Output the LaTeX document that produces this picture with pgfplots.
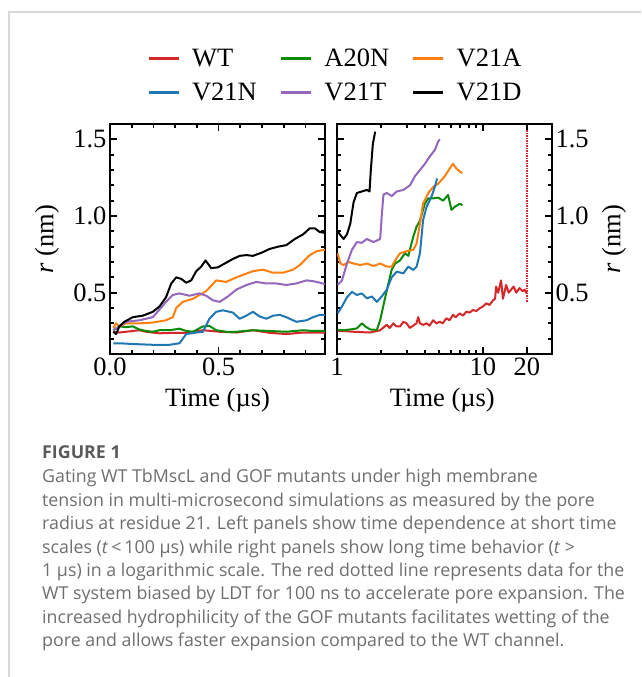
\documentclass[border=0pt]{standalone}
\usepackage{fontspec}
\setmainfont{Liberation Serif}
\newfontfamily\capfont{Open Sans}
\usepackage{pgfplots}
\pgfplotsset{compat=1.18}

\definecolor{cWT}{HTML}{D62728}
\definecolor{cA20N}{HTML}{0A8A0A}
\definecolor{cV21A}{HTML}{FF7F0E}
\definecolor{cV21N}{HTML}{1F77B4}
\definecolor{cV21T}{HTML}{9467BD}
\definecolor{cV21D}{HTML}{000000}
\definecolor{capgray}{HTML}{6E6E6E}
\definecolor{capdark}{HTML}{5A5A5A}
\definecolor{framegray}{HTML}{D9D9D9}

\pgfplotsset{
  panel/.style={
    scale only axis, width=215pt, height=230pt,
    ymin=0.1, ymax=1.6,
    ytick={0.5,1.0,1.5}, yticklabels={0.5,1.0,1.5},
    minor ytick={0.2,0.3,0.4,0.6,0.7,0.8,0.9,1.1,1.2,1.3,1.4},
    font=\fontsize{26.5}{30}\selectfont,
    axis line style={line width=2.5pt},
    major tick length=7pt, minor tick length=4pt,
    tick style={line width=1.8pt, black},
    tick align=inside,
    xlabel={Time (µs)},
    ylabel={\textit{r} (nm)},
    every axis plot/.append style={line width=2pt, line join=round, no marks},
  }
}

\begin{document}
\begin{tikzpicture}
\path[use as bounding box] (0pt,0pt) rectangle (641pt,677pt);
\draw[framegray, line width=1.5pt] (9pt,0pt) -- (9pt,665pt) -- (641pt,665pt);

% short times
\begin{axis}[panel, at={(110pt,323pt)}, anchor=south west,
    xmin=0, xmax=0.99,
    xtick={0,0.5}, xticklabels={0.0,0.5},
    minor xtick={0.1,0.2,0.3,0.4,0.6,0.7,0.8,0.9},
    xlabel style={at={(axis description cs:0.5,-0.2)}, anchor=center},
    ylabel style={at={(axis description cs:-0.293,0.5)}, anchor=center},
    legend columns=3, legend cell align=left,
    legend image code/.code={\draw[#1, line width=2.5pt] (0pt,0pt) -- (30pt,0pt);},
    legend style={draw=none, fill=none, at={(1.049,1.211)}, anchor=center,
        row sep=11pt,
        /tikz/every even column/.append style={column sep=21pt},
        /tikz/every odd column/.append style={column sep=10pt}},
]
\addplot[cWT] coordinates {(0.015,0.245) (0.043,0.24) (0.105,0.25) (0.135,0.255) (0.166,0.245) (0.228,0.235) (0.289,0.238) (0.351,0.238) (0.428,0.255) (0.505,0.245) (0.582,0.24) (0.658,0.255) (0.735,0.238) (0.812,0.23) (0.889,0.24) (0.99,0.24)};
\addplot[cA20N] coordinates {(0.015,0.255) (0.043,0.28) (0.074,0.275) (0.105,0.28) (0.135,0.26) (0.166,0.25) (0.197,0.245) (0.228,0.255) (0.274,0.255) (0.32,0.265) (0.351,0.25) (0.382,0.245) (0.428,0.28) (0.458,0.283) (0.489,0.255) (0.535,0.245) (0.582,0.245) (0.658,0.255) (0.735,0.25) (0.812,0.245) (0.889,0.255) (0.935,0.25) (0.99,0.25)};
\addplot[cV21A] coordinates {(0.015,0.27) (0.028,0.3) (0.043,0.28) (0.074,0.3) (0.135,0.3) (0.197,0.305) (0.258,0.32) (0.289,0.34) (0.305,0.4) (0.335,0.44) (0.382,0.46) (0.443,0.51) (0.489,0.58) (0.535,0.57) (0.582,0.6) (0.658,0.64) (0.705,0.65) (0.751,0.63) (0.797,0.63) (0.843,0.65) (0.874,0.68) (0.92,0.745) (0.951,0.77) (0.99,0.78)};
\addplot[cV21N] coordinates {(0.015,0.17) (0.043,0.17) (0.105,0.165) (0.197,0.16) (0.274,0.16) (0.32,0.17) (0.351,0.23) (0.397,0.24) (0.428,0.245) (0.458,0.33) (0.489,0.375) (0.52,0.385) (0.566,0.37) (0.597,0.33) (0.628,0.35) (0.658,0.375) (0.689,0.345) (0.72,0.33) (0.751,0.35) (0.782,0.355) (0.812,0.34) (0.858,0.31) (0.905,0.32) (0.935,0.34) (0.966,0.355) (0.99,0.355)};
\addplot[cV21T] coordinates {(0.015,0.255) (0.043,0.28) (0.074,0.31) (0.135,0.32) (0.197,0.34) (0.228,0.39) (0.258,0.44) (0.289,0.485) (0.32,0.495) (0.366,0.48) (0.412,0.495) (0.443,0.48) (0.474,0.45) (0.505,0.44) (0.543,0.475) (0.582,0.52) (0.628,0.55) (0.674,0.57) (0.72,0.56) (0.766,0.56) (0.812,0.55) (0.858,0.56) (0.905,0.58) (0.935,0.575) (0.966,0.565) (0.99,0.555)};
\addplot[cV21D] coordinates {(0.015,0.245) (0.028,0.23) (0.043,0.28) (0.066,0.31) (0.105,0.34) (0.151,0.35) (0.197,0.375) (0.228,0.41) (0.258,0.47) (0.282,0.56) (0.305,0.6) (0.328,0.59) (0.351,0.565) (0.374,0.58) (0.397,0.64) (0.42,0.67) (0.44,0.71) (0.466,0.66) (0.497,0.665) (0.528,0.69) (0.566,0.72) (0.597,0.74) (0.628,0.745) (0.658,0.74) (0.697,0.76) (0.735,0.785) (0.774,0.8) (0.812,0.81) (0.851,0.85) (0.889,0.88) (0.92,0.92) (0.943,0.92) (0.966,0.895) (0.99,0.89)};
\legend{WT, A20N, V21A, V21N, V21T, V21D}
\end{axis}

% long times, logarithmic
\begin{axis}[panel, at={(337pt,323pt)}, anchor=south west,
    xmode=log, xmin=1, xmax=29.7,
    xtick={1,10,20}, xticklabels={1,10,20},
    minor xtick={2,3,4,5,6,7,8,9},
    yticklabel pos=right,
    xlabel style={at={(axis description cs:0.49,-0.2)}, anchor=center},
    ylabel style={at={(axis description cs:1.288,0.5)}, anchor=center, rotate=0},
]
\addplot[cWT] coordinates {(1.01,0.252) (1.299,0.245) (1.687,0.24) (1.975,0.255) (2.193,0.29) (2.3,0.27) (2.43,0.3) (2.55,0.28) (2.7,0.28) (2.85,0.31) (3.0,0.3) (3.15,0.27) (3.33,0.285) (3.5,0.3) (3.6,0.34) (3.7,0.3) (3.9,0.29) (4.11,0.3) (4.3,0.285) (4.56,0.32) (4.8,0.3) (5.06,0.31) (5.3,0.3) (5.62,0.333) (5.9,0.32) (6.23,0.355) (6.5,0.34) (6.93,0.365) (7.3,0.35) (7.69,0.376) (8.1,0.37) (8.54,0.387) (9.0,0.38) (9.48,0.398) (10.0,0.41) (10.5,0.43) (11.1,0.42) (11.7,0.45) (12.1,0.46) (12.3,0.54) (12.7,0.5) (13.3,0.58) (13.7,0.46) (14.4,0.55) (15.0,0.5) (15.6,0.52) (16.2,0.54) (16.9,0.5) (17.8,0.53) (18.7,0.51) (19.3,0.52) (19.9,0.495)};
\addplot[cWT, line width=1.5pt, dash pattern=on 1.5pt off 1pt] coordinates {(20,0.44) (20,1.56)};
\addplot[cA20N] coordinates {(1.01,0.257) (1.11,0.255) (1.233,0.26) (1.369,0.267) (1.48,0.3) (1.56,0.28) (1.687,0.26) (1.875,0.257) (1.975,0.32) (2.14,0.47) (2.25,0.56) (2.37,0.65) (2.5,0.69) (2.7,0.71) (2.92,0.757) (3.08,0.74) (3.33,0.865) (3.51,0.93) (3.7,0.97) (4.0,1.08) (4.22,1.115) (4.56,1.115) (4.93,1.12) (5.33,1.1) (5.77,1.137) (6.08,1.04) (6.41,1.06) (6.93,1.08) (7.22,1.07)};
\addplot[cV21A] coordinates {(1.01,0.757) (1.054,0.69) (1.11,0.68) (1.2,0.7) (1.299,0.69) (1.442,0.68) (1.6,0.69) (1.778,0.674) (1.975,0.69) (2.193,0.67) (2.37,0.67) (2.5,0.71) (2.7,0.757) (3.0,0.77) (3.33,0.78) (3.51,0.82) (3.7,0.95) (3.89,1.08) (4.22,1.15) (4.56,1.19) (4.93,1.21) (5.48,1.26) (5.92,1.31) (6.23,1.34) (6.58,1.31) (6.93,1.29) (7.22,1.28)};
\addplot[cV21N] coordinates {(1.01,0.365) (1.082,0.41) (1.17,0.47) (1.266,0.505) (1.369,0.485) (1.48,0.495) (1.6,0.463) (1.733,0.475) (1.875,0.44) (2.025,0.475) (2.193,0.52) (2.37,0.6) (2.565,0.637) (2.85,0.626) (3.08,0.67) (3.33,0.648) (3.51,0.67) (3.7,0.757) (3.89,0.974) (4.11,1.06) (4.44,1.126) (4.68,1.19) (4.85,1.245)};
\addplot[cV21T] coordinates {(1.01,0.55) (1.082,0.58) (1.17,0.69) (1.266,0.78) (1.369,0.83) (1.48,0.825) (1.6,0.85) (1.778,0.83) (1.975,0.85) (2.025,1.0) (2.08,1.14) (2.193,1.15) (2.37,1.13) (2.565,1.16) (2.85,1.17) (3.16,1.2) (3.42,1.26) (3.7,1.3) (4.0,1.34) (4.33,1.39) (4.68,1.43) (4.93,1.485) (5.06,1.5)};
\addplot[cV21D] coordinates {(1.01,0.9) (1.054,0.876) (1.11,0.85) (1.17,0.88) (1.233,0.95) (1.299,1.09) (1.369,1.15) (1.48,1.16) (1.6,1.17) (1.67,1.16) (1.705,1.3) (1.76,1.47) (1.826,1.55)};
\end{axis}

% caption
\node[anchor=base west, inner sep=0, text=capdark, font=\capfont\bfseries\fontsize{17.8}{20}\selectfont] at (42pt,218pt) {FIGURE 1};
\begin{scope}[every node/.style={anchor=base west, inner sep=0, text=capgray, font=\capfont\fontsize{17.8}{20}\selectfont}]
\node at (42pt,194pt) {Gating WT TbMscL and GOF mutants under high membrane};
\node at (42pt,170.6pt) {tension in multi-microsecond simulations as measured by the pore};
\node at (42pt,147.2pt) {radius at residue 21. Left panels show time dependence at short time};
\node at (42pt,123.8pt) {scales (\textit{t}\,<\,100 µs) while right panels show long time behavior (\textit{t} >};
\node at (42pt,100.4pt) {1 µs) in a logarithmic scale. The red dotted line represents data for the};
\node at (42pt,77pt) {WT system biased by LDT for 100 ns to accelerate pore expansion. The};
\node at (42pt,53.6pt) {increased hydrophilicity of the GOF mutants facilitates wetting of the};
\node at (42pt,30.2pt) {pore and allows faster expansion compared to the WT channel.};
\end{scope}
\end{tikzpicture}
\end{document}
